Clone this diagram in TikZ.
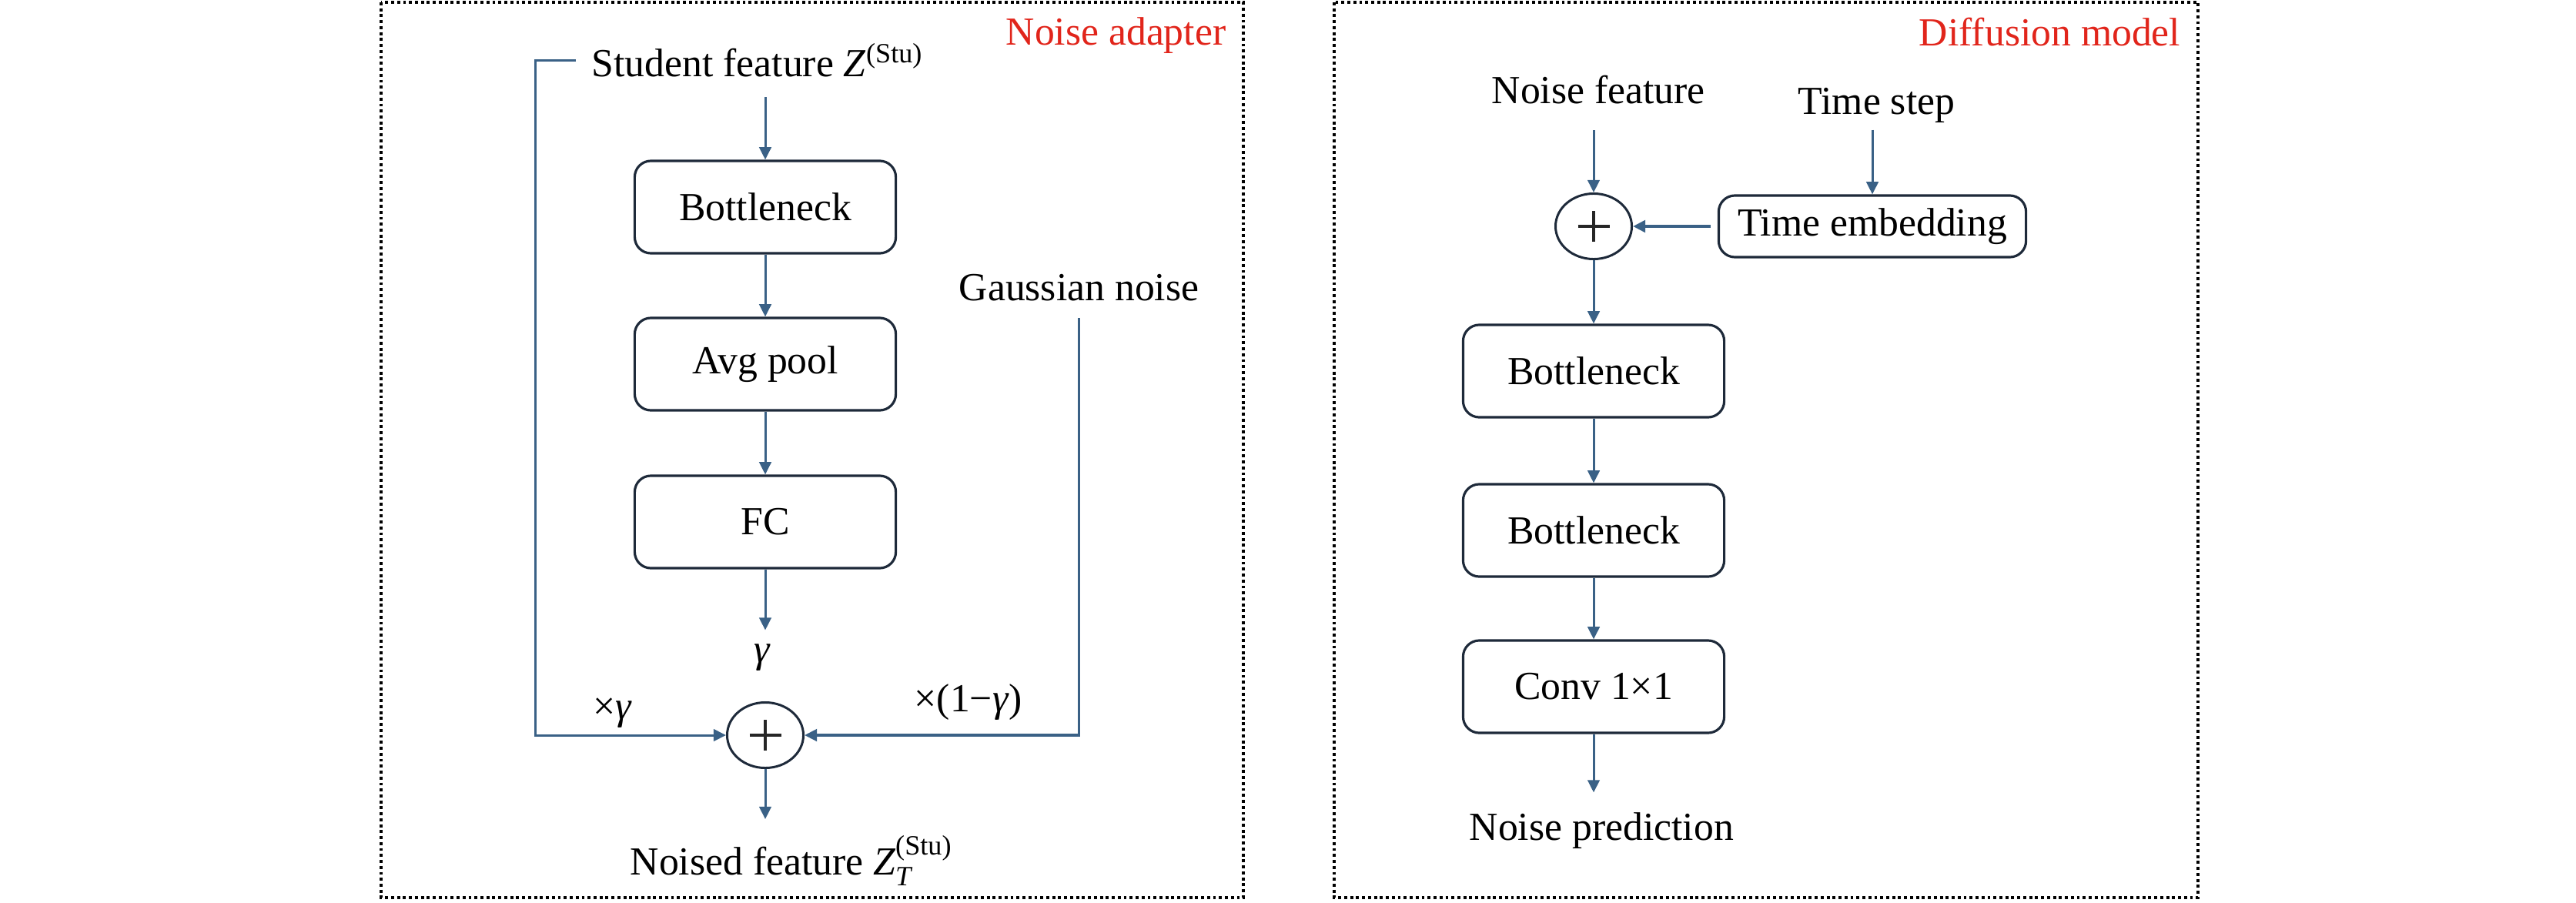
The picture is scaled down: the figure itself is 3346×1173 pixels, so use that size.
\documentclass[tikz,border=0pt]{standalone}
\usepackage{amsmath}
\usepackage{fontspec}
\setmainfont{Liberation Serif}
\usepackage{tikz}
\usetikzlibrary{shapes.geometric,arrows.meta,positioning,calc}
\definecolor{flowblue}{HTML}{3A6186}
\definecolor{edgenavy}{HTML}{1E2A3A}
\definecolor{titlered}{HTML}{E1251B}

\begin{document}
\begin{tikzpicture}[
  x=0.01cm, y=-0.01cm,
  font=\fontsize{14.7pt}{17pt}\selectfont,
  block/.style={draw=edgenavy, line width=0.9pt, rounded corners=6pt, minimum width=3.39cm, minimum height=1.2cm, align=center},
  sumnode/.style={ellipse, draw=edgenavy, line width=0.85pt, minimum width=0.99cm, minimum height=0.85cm, inner sep=0pt,
    path picture={\draw[line width=1pt, black!85]
      ([xshift=-0.205cm]path picture bounding box.center) -- ([xshift=0.205cm]path picture bounding box.center)
      ([yshift=-0.2cm]path picture bounding box.center) -- ([yshift=0.2cm]path picture bounding box.center);}},
  lbl/.style={inner sep=0pt, anchor=base west},
  arr/.style={draw=flowblue, line width=0.85pt, -{Triangle[length=4.6pt,width=4.4pt]}},
  frame/.style={draw=black, line width=1pt, dash pattern=on 1.1pt off 1.1pt},
  tag/.style={inner sep=0pt, anchor=base east, text=titlered}
]
  \useasboundingbox (0,0) rectangle (3346,1173);

  % frames
  \draw[frame] (495,3) rectangle (1615,1166);
  \draw[frame] (1733,3) rectangle (2855,1166);
  \node[tag] (nattl) at (1593,59) {Noise adapter};
  \node[tag] (dmttl) at (2833,60) {Diffusion model};

  % noise adapter
  \node[lbl] (stu) at (768,100) {Student feature \textit{Z}\textsuperscript{(Stu)}};
  \node[block] (nabn) at (994,269) {Bottleneck};
  \node[block] (napool) at (994,473) {Avg pool};
  \node[block] (nafc) at (994,678) {FC};
  \node[inner sep=0pt, anchor=base] (gam) at (990,860) {\textit{γ}};
  \node[sumnode] (nasum) at (994,955) {};
  \node[lbl] (gauss) at (1245,390) {Gaussian noise};
  \node[lbl] (noised) at (818,1136) {Noised feature $\textit{Z}_{\textit{T}}^{\textrm{(Stu)}}$};
  \node[lbl] (wg) at (770,934) {×\textit{γ}};
  \node[lbl] (wng) at (1187,924) {×(1−\textit{γ})};

  \draw[arr, shorten <=0.25cm] (stu.south -| nabn.north) -- (nabn.north);
  \draw[arr] (nabn) -- (napool);
  \draw[arr] (napool) -- (nafc);
  \draw[arr, shorten >=0.17cm] (nafc.south) -- (nafc.south |- gam.north);
  \draw[arr, shorten <=0.2cm] (stu.west) -- ++(-73,0) |- (nasum.west);
  \draw[arr, line width=1pt, shorten <=0.22cm] (gauss.south) |- (nasum.east);
  \draw[arr, shorten >=0.21cm] (nasum.south) -- (nasum.south |- noised.north);

  % diffusion model
  \node[lbl] (nf) at (1937,135) {Noise feature};
  \node[lbl] (ts) at (2335,149) {Time step};
  \node[sumnode] (dmsum) at (2070,294) {};
  \node[block, minimum width=3.99cm, minimum height=0.8cm] (temb) at (2432,294) {Time embedding};
  \node[block] (dmbn1) at (2070,482) {Bottleneck};
  \node[block] (dmbn2) at (2070,689) {Bottleneck};
  \node[block] (conv) at (2070,892) {Conv 1×1};
  \node[lbl] (pred) at (1908,1091) {Noise prediction};

  \draw[arr, shorten <=0.33cm] (nf.south -| dmsum.north) -- (dmsum.north);
  \draw[arr, shorten <=0.08cm] (ts.south -| temb.north) -- (temb.north);
  \draw[arr, line width=1.3pt, shorten <=0.09cm] (temb.west) -- (dmsum.east);
  \draw[arr] (dmsum) -- (dmbn1);
  \draw[arr] (dmbn1) -- (dmbn2);
  \draw[arr] (dmbn2) -- (conv);
  \draw[arr, shorten >=0.25cm] (conv.south) -- (conv.south |- pred.north);
\end{tikzpicture}
\end{document}
